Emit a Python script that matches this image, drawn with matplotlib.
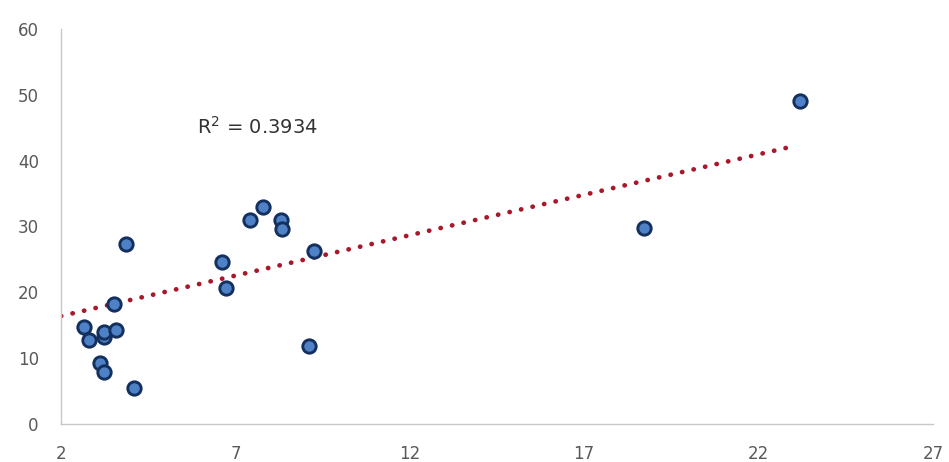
import numpy as np
import matplotlib
matplotlib.use("Agg")
import matplotlib.pyplot as plt

# Observed pairs
x_vals = [2.66, 2.80, 3.23, 3.23, 3.57, 3.52, 3.12, 3.23, 3.86, 4.08,
          6.61, 6.73, 7.42, 7.80, 8.31, 8.35, 9.24, 9.12, 18.71, 23.19]
y_vals = [14.7, 12.8, 13.2, 14.0, 14.2, 18.2, 9.2, 7.9, 27.3, 5.5,
          24.6, 20.6, 31.0, 33.0, 31.0, 29.6, 26.2, 11.9, 29.7, 49.1]

# Linear trendline as reported with the chart
trend_slope = 1.228
trend_intercept = 13.94
trend_range = [2.0, 22.9]
r_squared = 0.3934

x_ticks = [2, 7, 12, 17, 22, 27]
y_ticks = [0, 10, 20, 30, 40, 50, 60]


def main():
    fig = plt.figure(figsize=(9.49, 4.62), dpi=100)
    ax = fig.add_axes([0.0643, 0.0823, 0.9187, 0.855])

    xt = np.array(trend_range)
    ax.plot(xt, trend_slope * xt + trend_intercept, color="#A8182A", lw=3.4,
            linestyle=(0, (0.05, 2.45)), dash_capstyle="round", zorder=2)

    ax.plot(x_vals, y_vals, "o", markersize=9.6, markerfacecolor="#4F81C7",
            markeredgecolor="#14305E", markeredgewidth=2.1, zorder=3)

    ax.text(5.89, 45.2, r"R$^{\mathregular{2}}$ = " + f"{r_squared:.4f}",
            fontsize=14, color="#333333", va="center", ha="left")

    ax.set_xlim(2, 27)
    ax.set_ylim(0, 60)
    ax.set_xticks(x_ticks)
    ax.set_yticks(y_ticks)
    ax.tick_params(length=0, labelsize=12, colors="#595959")
    ax.tick_params(axis="x", pad=15)
    ax.tick_params(axis="y", pad=16)
    for side in ("top", "right"):
        ax.spines[side].set_visible(False)
    for side in ("left", "bottom"):
        ax.spines[side].set_color("#C8C8C8")
        ax.spines[side].set_linewidth(1.0)

    fig.savefig("out.png", dpi=100)
    plt.close(fig)


if __name__ == "__main__":
    main()
